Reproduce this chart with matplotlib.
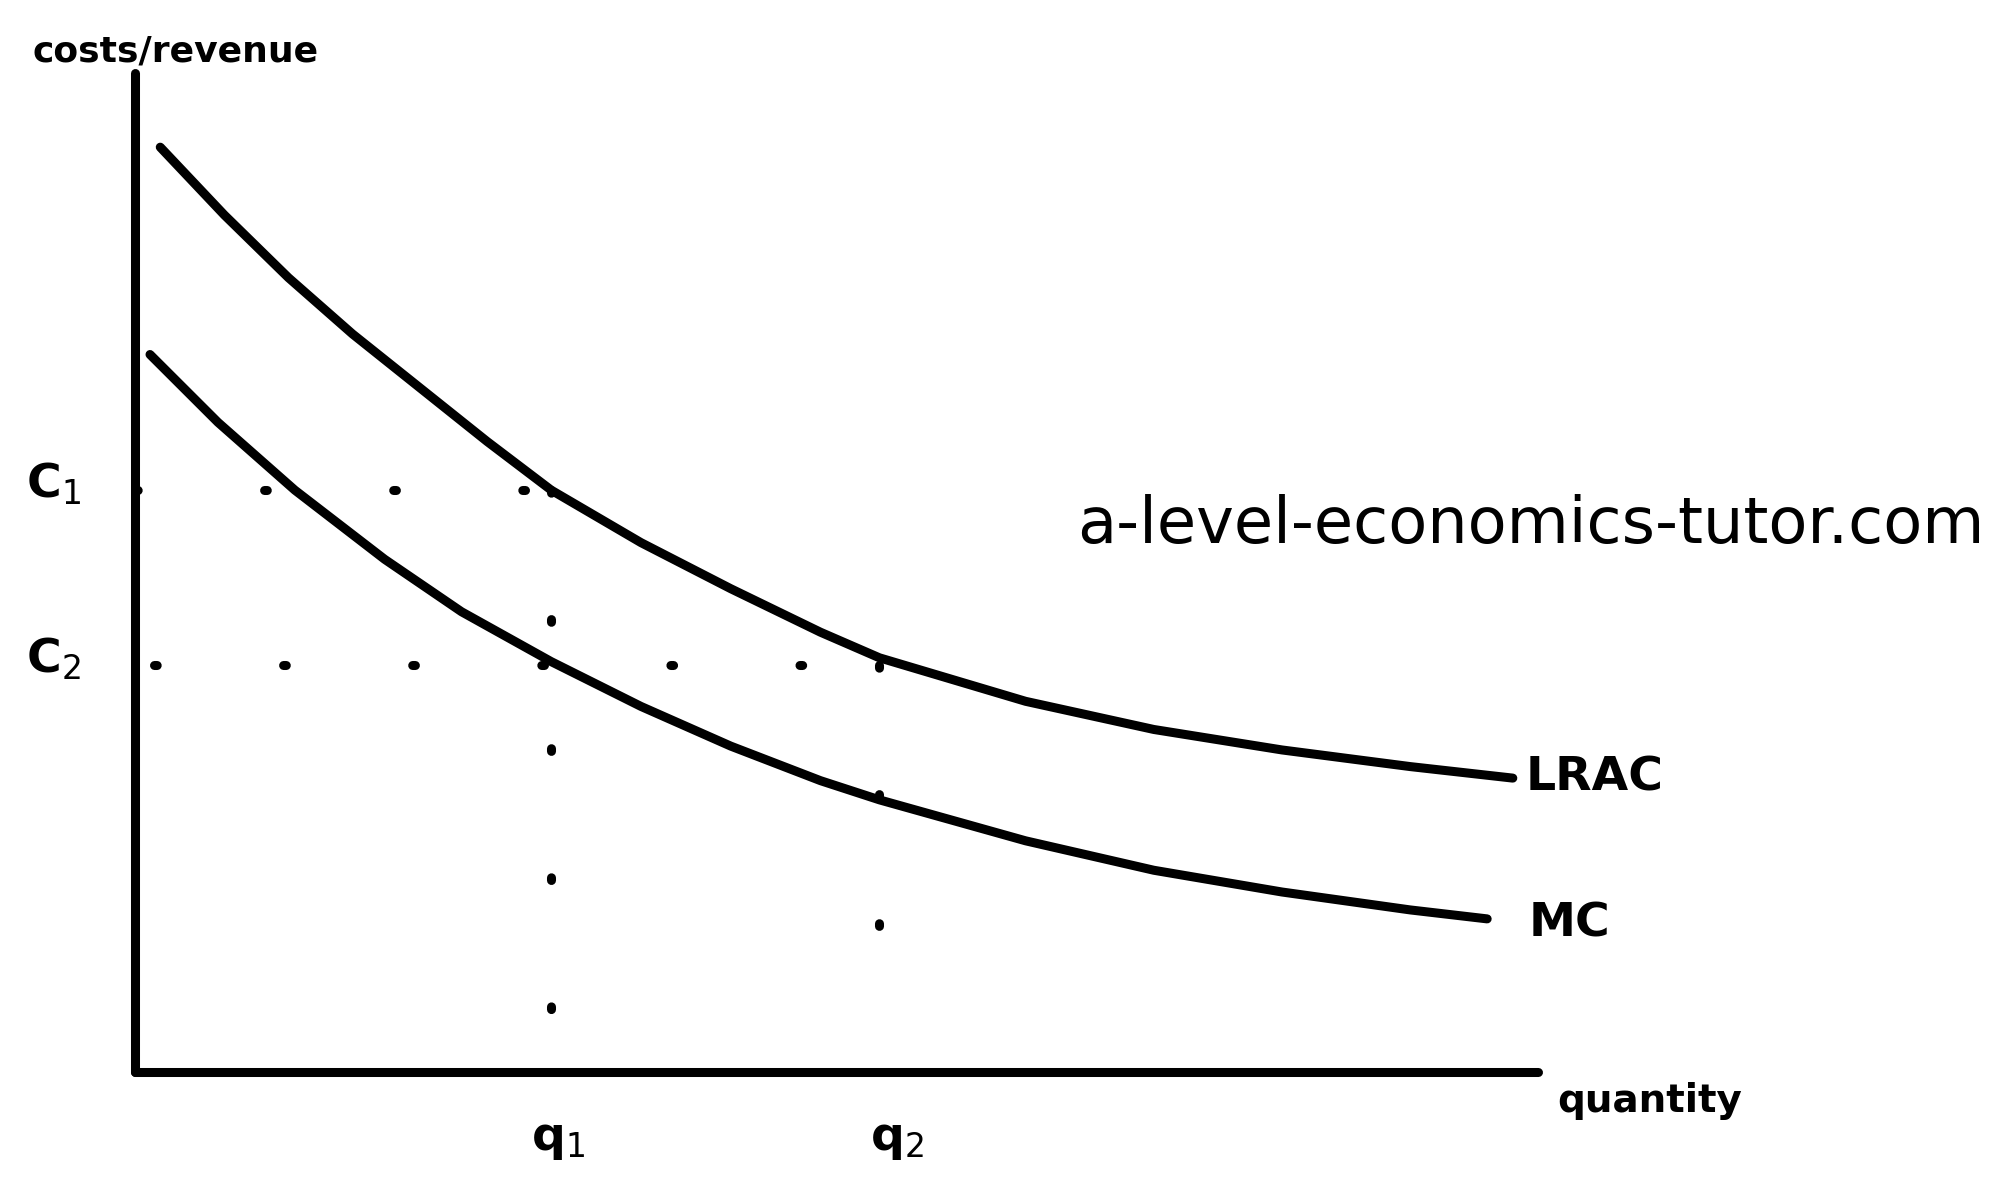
import matplotlib
matplotlib.use("Agg")
import matplotlib.pyplot as plt

lrac_x = [125, 175, 225, 275, 330, 380, 430, 500, 570, 640, 686, 800, 900, 1000, 1100, 1180]
lrac_y = [115, 168, 217, 261, 305, 345, 383, 424, 460, 494, 514, 548, 570, 586, 599, 608]
mc_x = [117, 170, 230, 300, 360, 430, 500, 570, 640, 686, 800, 900, 1000, 1100, 1160]
mc_y = [277, 330, 383, 437, 478, 517, 552, 583, 610, 625, 657, 680, 697, 711, 718]
c1, c2 = 383, 520
q1, q2 = 430, 686

fig = plt.figure(figsize=(20, 12.03), dpi=100)
ax = fig.add_axes([0, 0, 1, 1])
ax.set_xlim(0, 1560)
ax.set_ylim(940, 0)
ax.axis("off")
lw = 6.5
ax.plot([105, 105], [57, 838], color="black", lw=lw, solid_capstyle="round")
ax.plot([105, 1200], [838, 838], color="black", lw=lw, solid_capstyle="round")
ax.plot(lrac_x, lrac_y, color="black", lw=lw, solid_capstyle="round", solid_joinstyle="round")
ax.plot(mc_x, mc_y, color="black", lw=lw, solid_capstyle="round", solid_joinstyle="round")
dot = dict(color="black", lw=lw, linestyle=(0, (0.3, 14)), dash_capstyle="round")
ax.plot([105, q1], [c1, c1], **dot)
ax.plot([120, q2], [c2, c2], **dot)
ax.plot([q1, q1], [c1, 800], **dot)
ax.plot([q2, q2], [c2, 815], **dot)

fs = 34
ax.text(25, 40, "costs/revenue", fontsize=26, fontweight="bold", va="center")
ax.text(1215, 860, "quantity", fontsize=28, fontweight="bold", va="center")
ax.text(42, 378, "C$_1$", fontsize=fs, fontweight="bold", va="center", ha="center")
ax.text(42, 515, "C$_2$", fontsize=fs, fontweight="bold", va="center", ha="center")
ax.text(435, 890, "q$_1$", fontsize=fs, fontweight="bold", va="center", ha="center")
ax.text(700, 890, "q$_2$", fontsize=fs, fontweight="bold", va="center", ha="center")
ax.text(1190, 608, "LRAC", fontsize=fs, fontweight="bold", va="center")
ax.text(1192, 722, "MC", fontsize=fs, fontweight="bold", va="center")
ax.text(840, 410, "a-level-economics-tutor.com", fontsize=46, va="center")
fig.savefig("out.png", dpi=100)
